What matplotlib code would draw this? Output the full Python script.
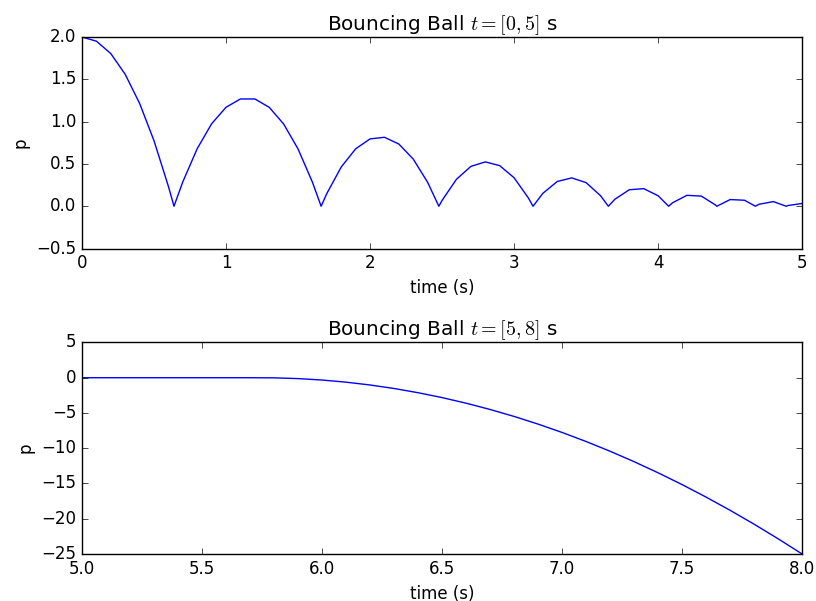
import numpy as np
import matplotlib
matplotlib.use("Agg")
import matplotlib.pyplot as plt

plt.style.use("classic")

# first 5 seconds: samples every 0.1 s plus the bounce instants
t_top = [0.0, 0.1, 0.2, 0.3, 0.4, 0.5, 0.6, 0.6386,
         0.7, 0.8, 0.9, 1.0, 1.1, 1.2, 1.3, 1.4, 1.5, 1.6, 1.6603,
         1.7, 1.8, 1.9, 2.0, 2.1, 2.2, 2.3, 2.4, 2.4776,
         2.5, 2.6, 2.7, 2.8, 2.9, 3.0, 3.1, 3.1315,
         3.2, 3.3, 3.4, 3.5, 3.6, 3.6546,
         3.7, 3.8, 3.9, 4.0, 4.0731,
         4.1, 4.2, 4.3, 4.4, 4.4079,
         4.5, 4.6, 4.6757,
         4.7, 4.8, 4.89,
         4.9, 5.0]
p_top = [2.0, 1.951, 1.804, 1.559, 1.215, 0.774, 0.234, 0.0,
         0.289, 0.681, 0.975, 1.170, 1.268, 1.268, 1.169, 0.972, 0.677, 0.284, 0.0,
         0.151, 0.464, 0.679, 0.796, 0.815, 0.735, 0.557, 0.282, 0.0,
         0.069, 0.319, 0.471, 0.524, 0.480, 0.337, 0.096, 0.0,
         0.153, 0.293, 0.335, 0.279, 0.125, 0.0,
         0.083, 0.195, 0.208, 0.124, 0.0,
         0.041, 0.129, 0.120, 0.013, 0.0,
         0.079, 0.071, 0.0,
         0.023, 0.055, 0.0,
         0.008, 0.033]

# 5 to 8 seconds: ball rests, then falls through
t_bot = [5.0, 5.1, 5.2, 5.3, 5.4, 5.5, 5.6, 5.7, 5.8, 5.9,
         6.0, 6.1, 6.2, 6.3, 6.4, 6.5, 6.6, 6.7, 6.8, 6.9,
         7.0, 7.1, 7.2, 7.3, 7.4, 7.5, 7.6, 7.7, 7.8, 7.9, 8.0]
p_bot = [0.0, 0.0, 0.0, 0.0, 0.0, 0.0, 0.0, 0.0, -0.017, -0.122,
         -0.327, -0.629, -1.029, -1.527, -2.124, -2.818, -3.611, -4.502, -5.490, -6.577,
         -7.763, -9.046, -10.427, -11.906, -13.484, -15.159, -16.933, -18.805, -20.775, -22.842, -25.0]

fig, (ax1, ax2) = plt.subplots(2, 1, figsize=(8.16, 6.01), dpi=100)
fig.subplots_adjust(left=0.1005, right=0.983, top=0.9384, bottom=0.0782, hspace=0.444)

ax1.plot(t_top, p_top, 'b-')
ax1.set_xlim(0, 5)
ax1.set_ylim(-0.5, 2.0)
ax1.set_title(r'Bouncing Ball $t=[0,5]$ s')
ax1.set_xlabel('time (s)')
ax1.set_ylabel('p')

ax2.plot(t_bot, p_bot, 'b-')
ax2.set_xlim(5, 8)
ax2.set_ylim(-25, 5)
ax2.set_title(r'Bouncing Ball $t=[5,8]$ s')
ax2.set_xlabel('time (s)')
ax2.set_ylabel('p')

fig.savefig('out.png', dpi=100)
